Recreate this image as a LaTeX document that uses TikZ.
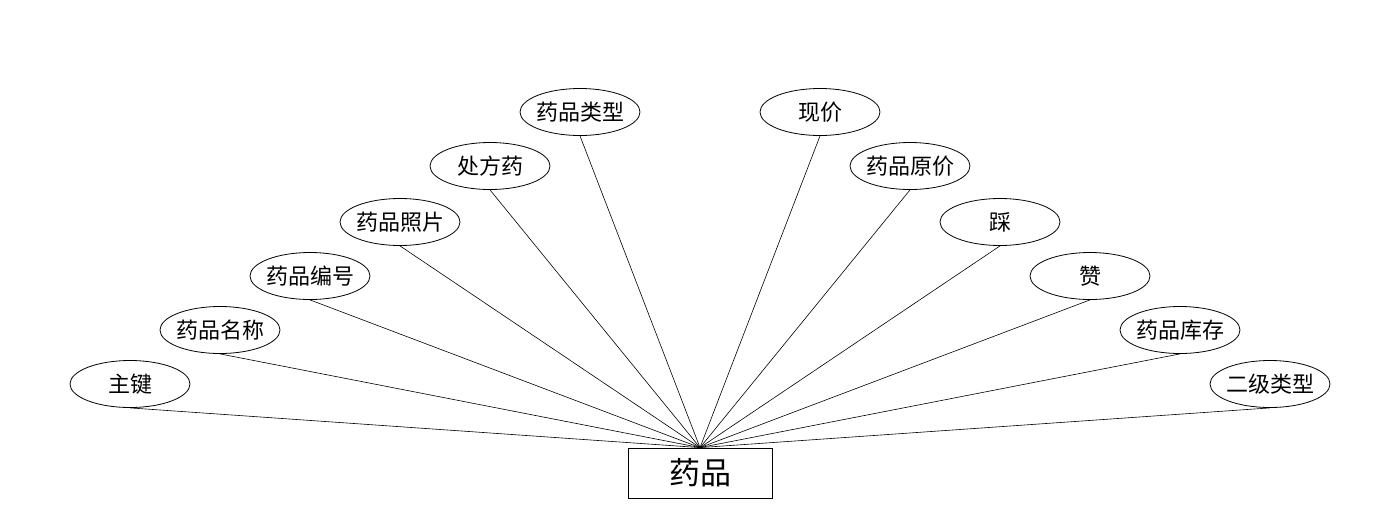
\documentclass[tikz,border=0pt]{standalone}
\usepackage{fontspec}
\setmainfont{Noto Sans CJK SC}
\usetikzlibrary{shapes.geometric}
\newcommand{\zw}[1]{\makebox[0pt]{#1}}
\begin{document}
\begin{tikzpicture}[x=1pt,y=1pt,
  attr/.style={draw, ellipse, line width=0.8pt, minimum width=120pt, minimum height=47pt, inner sep=0pt, font=\fontsize{22}{25}\selectfont},
  ent/.style={draw, rectangle, line width=0.8pt, minimum width=144pt, minimum height=50pt, inner sep=0pt, font=\fontsize{31}{35}\selectfont},
  link/.style={line width=0.6pt}]
\useasboundingbox (0,0) rectangle (1400,-528);
\node[ent] (e) at (700,-473) {药品};
\node[attr] (a1) at (130,-384) {\zw{主键}};
\node[attr] (a2) at (220,-330) {\zw{药品名称}};
\node[attr] (a3) at (310,-276) {\zw{药品编号}};
\node[attr] (a4) at (400,-222) {\zw{药品照片}};
\node[attr] (a5) at (490,-166) {\zw{处方药}};
\node[attr] (a6) at (580,-112) {\zw{药品类型}};
\node[attr] (b1) at (820,-112) {\zw{现价}};
\node[attr] (b2) at (910,-166) {\zw{药品原价}};
\node[attr] (b3) at (1000,-222) {\zw{踩}};
\node[attr] (b4) at (1090,-276) {\zw{赞}};
\node[attr] (b5) at (1180,-330) {\zw{药品库存}};
\node[attr] (b6) at (1270,-384) {\zw{二级类型}};
\foreach \n in {a1,a2,a3,a4,a5,a6,b1,b2,b3,b4,b5,b6}
  \draw[link] (\n.south) -- (e.north);
\end{tikzpicture}
\end{document}
